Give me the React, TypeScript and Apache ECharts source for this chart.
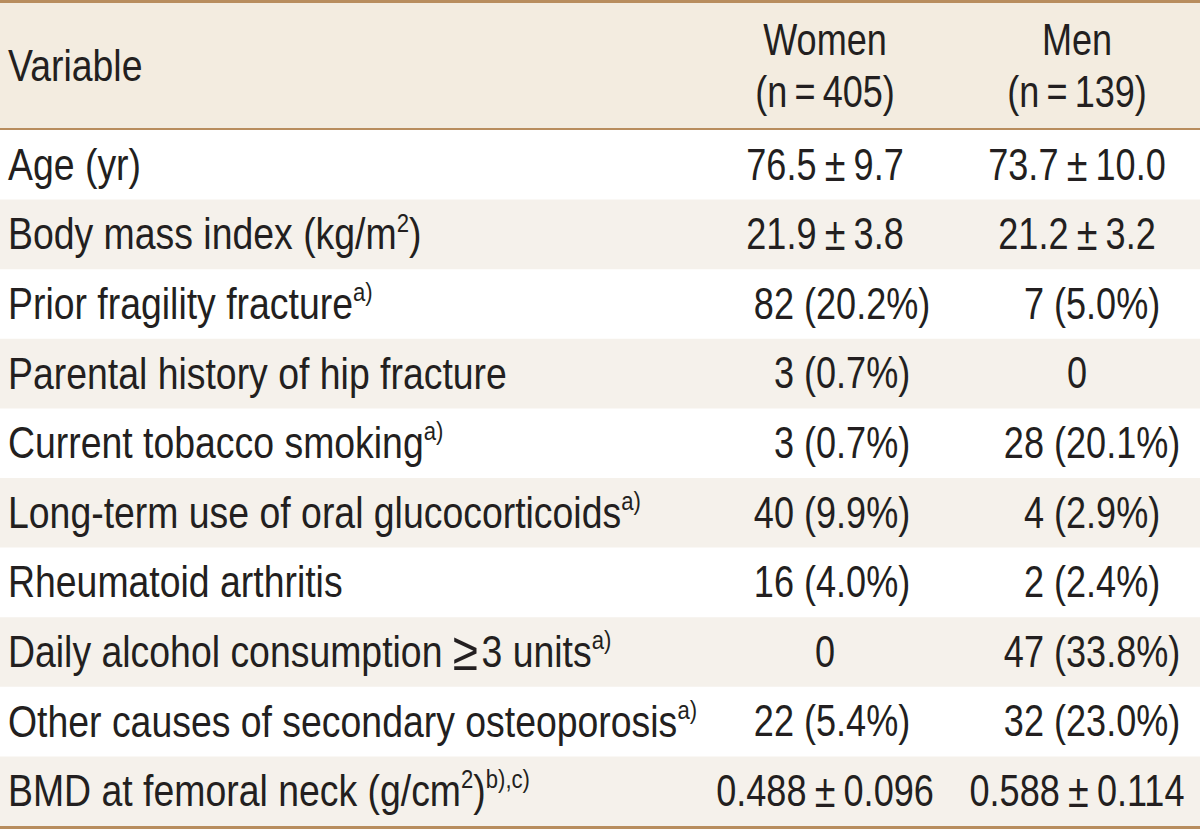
import React, { useEffect, useRef } from "react";
import * as echarts from "echarts";

// ---- data ----
const headerLabel = "Variable";
const groupNames = ["Women", "Men"];
const groupSizes = [405, 139];
const variables = [
  "Age (yr)",
  "Body mass index (kg/m^{2})",
  "Prior fragility fracture^{a)}",
  "Parental history of hip fracture",
  "Current tobacco smoking^{a)}",
  "Long-term use of oral glucocorticoids^{a)}",
  "Rheumatoid arthritis",
  "Daily alcohol consumption \u22653 units^{a)}",
  "Other causes of secondary osteoporosis^{a)}",
  "BMD at femoral neck (g/cm^{2})^{b),c)}",
];
const womenValues = [
  "76.5±9.7",
  "21.9±3.8",
  "82 (20.2%)",
  "3 (0.7%)",
  "3 (0.7%)",
  "40 (9.9%)",
  "16 (4.0%)",
  "0",
  "22 (5.4%)",
  "0.488±0.096",
];
const menValues = [
  "73.7±10.0",
  "21.2±3.2",
  "7 (5.0%)",
  "0",
  "28 (20.1%)",
  "4 (2.9%)",
  "2 (2.4%)",
  "47 (33.8%)",
  "32 (23.0%)",
  "0.588±0.114",
];

// ---- layout / style ----
const W = 1200;
const H = 829;
const FONT = "'Liberation Sans', Arial, sans-serif";
const FS = 44;
const SX_LABEL = 0.85;
const SX_VALUE = 0.82;
const TEXT = "#231f20";
const BORDER = "#b88d5e";
const HEAD_BG = "#f3ece0";
const SHADE = "#f5f1eb";
const HEAD_TOP = 3;
const HEAD_BOTTOM = 128;
const BODY_TOP = 130;
const BODY_BOTTOM = 826;
const LABEL_X = 8;
const COL_CENTER = [825, 1077];
const COL_ANCHOR = [804, 1054];
const GAP = 10;

const richStyles = {
  sup: { fontSize: 26, fontFamily: FONT, fill: TEXT, verticalAlign: "top", lineHeight: 30 },
  pm: { fontSize: 46, fontFamily: FONT, fill: TEXT, padding: [0, 10, 0, 10] },
  ge: { fontSize: 54, fontFamily: FONT, fill: TEXT, padding: [0, 4, 0, 0] },
};

function toRich(s: string) {
  return s.replace(/\^\{([^}]*)\}/g, "{sup|$1}").replace(/\u2265/g, "{ge|\u2265}");
}

function textEl(text: string, x: number, y: number, align: string, sx: number, extra: any = {}) {
  return {
    type: "text",
    x,
    y,
    scaleX: sx,
    silent: true,
    style: {
      text,
      x: 0,
      y: 0,
      fontSize: FS,
      fontFamily: FONT,
      fill: TEXT,
      align,
      verticalAlign: "middle",
      lineHeight: 50,
      rich: richStyles,
      ...extra,
    },
  };
}

function valueEls(v: string, col: number, cy: number) {
  const els: any[] = [];
  if (v.includes("±")) {
    const [a, b] = v.split("±");
    els.push(textEl(`${a}{pm|±}${b}`, COL_CENTER[col], cy, "center", SX_VALUE));
  } else if (v.includes("(")) {
    const idx = v.indexOf("(");
    const count = v.slice(0, idx).trim();
    const pct = v.slice(idx);
    els.push(textEl(count, COL_ANCHOR[col] - GAP, cy, "right", SX_VALUE));
    els.push(textEl(pct, COL_ANCHOR[col], cy, "left", SX_VALUE));
  } else {
    els.push(textEl(v, COL_CENTER[col], cy, "center", SX_VALUE));
  }
  return els;
}

function buildGraphic() {
  const els: any[] = [];
  const rowH = (BODY_BOTTOM - BODY_TOP) / variables.length;
  els.push({ type: "rect", shape: { x: 0, y: HEAD_TOP, width: W, height: HEAD_BOTTOM - HEAD_TOP }, style: { fill: HEAD_BG }, silent: true });
  variables.forEach((_, i) => {
    if (i % 2 === 1) {
      els.push({ type: "rect", shape: { x: 0, y: BODY_TOP + i * rowH, width: W, height: rowH }, style: { fill: SHADE }, silent: true });
    }
  });
  els.push({ type: "rect", shape: { x: 0, y: 0, width: W, height: HEAD_TOP }, style: { fill: BORDER }, silent: true });
  els.push({ type: "rect", shape: { x: 0, y: HEAD_BOTTOM, width: W, height: BODY_TOP - HEAD_BOTTOM }, style: { fill: BORDER }, silent: true });
  els.push({ type: "rect", shape: { x: 0, y: BODY_BOTTOM, width: W, height: H - BODY_BOTTOM }, style: { fill: BORDER }, silent: true });

  const headMid = (HEAD_TOP + HEAD_BOTTOM) / 2;
  els.push(textEl(headerLabel, LABEL_X, headMid, "left", SX_LABEL));
  groupNames.forEach((g, c) => {
    els.push(textEl(`${g}\n(n\u2009=\u2009${groupSizes[c]})`, COL_CENTER[c], headMid + 1, "center", SX_VALUE, { lineHeight: 52 }));
  });

  variables.forEach((v, i) => {
    const cy = BODY_TOP + i * rowH + rowH / 2;
    els.push(textEl(toRich(v), LABEL_X, cy, "left", SX_LABEL));
    els.push(...valueEls(womenValues[i], 0, cy));
    els.push(...valueEls(menValues[i], 1, cy));
  });
  return els;
}

export default function App() {
  const ref = useRef<HTMLDivElement>(null);
  useEffect(() => {
    if (!ref.current) return;
    const chart = echarts.init(ref.current, undefined, { renderer: "svg" });
    chart.setOption({
      animation: false,
      backgroundColor: "#ffffff",
      graphic: buildGraphic(),
    });
    return () => chart.dispose();
  }, []);
  return (
    <div
      ref={ref}
      style={{ position: "absolute", left: 0, top: 0, width: W, height: H, background: "#fff" }}
    />
  );
}
